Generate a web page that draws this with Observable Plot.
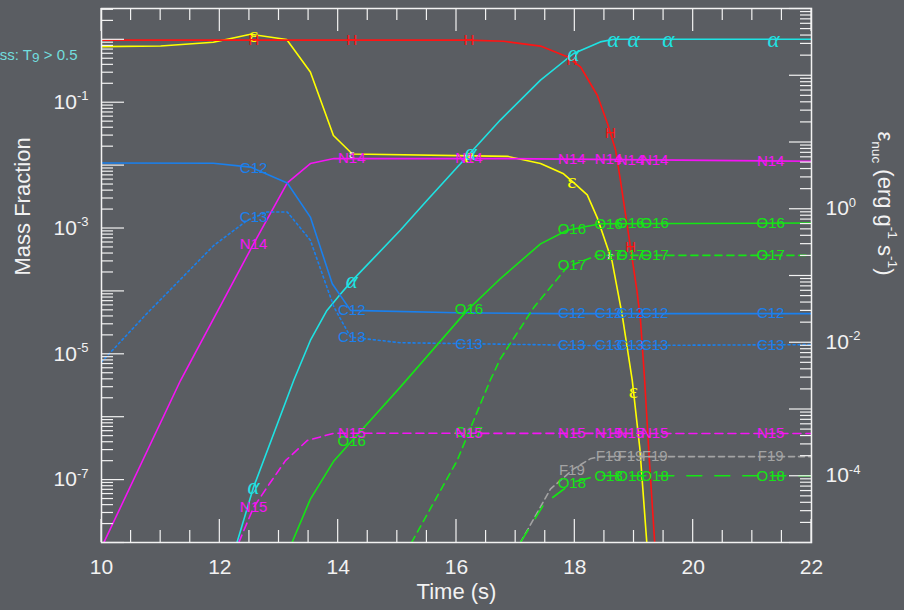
<!DOCTYPE html>
<html><head><meta charset="utf-8">
<script src="https://cdn.jsdelivr.net/npm/d3@7"></script>
<script src="https://cdn.jsdelivr.net/npm/@observablehq/plot@0.6"></script>
<style>
html,body{margin:0;padding:0;background:#5a5d62;}
#chart{width:904px;height:610px;overflow:hidden;}
svg{display:block;}
</style></head><body><div id="chart"></div>
<script>
// ---------- data ----------
const timeDomain = [10, 22];
const massDomain = [1e-8, 3.09];      // left axis, mass fraction
const epsDomain = [1e-5, 1e3];        // right axis, erg g^-1 s^-1
const xMajorTicks = [10, 12, 14, 16, 18, 20, 22];
const xTickLabels = ["10", "12", "14", "16", "18", "20", "22"];
const massLabelTicks = [1e-7, 1e-5, 1e-3, 1e-1];
const epsLabelTicks = [1e-4, 1e-2, 1e0, 1e2];

const timeH = [10, 16.2, 16.8, 17.42, 17.87, 18.10, 18.38, 18.55, 18.69, 18.77, 18.94, 19.05, 19.11, 19.18, 19.26, 19.35];
const massH = [0.97, 0.97, 0.93, 0.78, 0.53, 0.36, 0.129, 0.0463, 0.0172, 0.00575, 5.0e-4, 1.0e-4, 3.4e-5, 3.8e-6, 2.0e-7, 1e-8];

const timeEps = [10, 11.0, 11.89, 12.52, 13.13, 13.53, 13.92, 14.24, 16.86, 17.42, 17.81, 17.98, 18.21, 18.38, 18.63, 18.80, 18.97, 19.10, 19.22];
const epsNuc = [268, 275, 312, 412, 344, 112, 12.5, 6.6, 6.1, 4.77, 3.34, 2.47, 1.61, 0.73, 0.163, 0.0258, 2.7e-3, 2.5e-4, 9e-6];

const timeAlpha = [12.29, 12.57, 13.25, 13.53, 13.81, 14.04, 14.24, 15.05, 15.50, 16.24, 16.74, 17.42, 17.98, 18.43, 18.66, 22];
const massAlpha = [1e-8, 7.6e-8, 3.8e-6, 1.63e-5, 4.9e-5, 8.9e-5, 1.47e-4, 9.2e-4, 2.74e-3, 0.0159, 0.052, 0.224, 0.595, 0.91, 1.0, 1.0];

const timeN14 = [10.04, 11.335, 12.57, 13.14, 13.53, 13.93, 16.74, 22];
const massN14 = [1e-8, 3.76e-6, 5.6e-4, 5.2e-3, 0.0106, 0.0127, 0.0127, 0.0115];

const timeC12 = [10, 11.89, 12.52, 13.14, 13.53, 13.90, 14.21, 16.0, 17.70, 22];
const massC12 = [0.0108, 0.0107, 9.3e-3, 5.2e-3, 1.49e-3, 1.3e-4, 4.9e-5, 4.5e-5, 4.35e-5, 4.35e-5];

const timeC13 = [10.0, 10.77, 11.90, 12.46, 12.80, 13.14, 13.53, 13.93, 14.21, 15.05, 18.43, 22];
const massC13 = [7.4e-6, 4.4e-5, 5.3e-4, 1.32e-3, 1.8e-3, 1.8e-3, 6.4e-4, 5.5e-5, 1.84e-5, 1.5e-5, 1.35e-5, 1.4e-5];

const timeO16 = [13.22, 13.53, 13.93, 15.05, 16.18, 16.74, 17.42, 17.87, 18.43, 22];
const massO16 = [1e-8, 4.9e-8, 2.0e-7, 2.95e-6, 4.9e-5, 1.56e-4, 5.6e-4, 9.2e-4, 1.17e-3, 1.2e-3];

const timeO17 = [15.24, 16.01, 16.57, 16.74, 17.31, 17.87, 18.38, 22];
const massO17 = [1e-8, 2.0e-7, 3.8e-6, 8.3e-6, 5.5e-5, 2.4e-4, 3.67e-4, 3.67e-4];

const timeN15 = [12.32, 12.57, 12.80, 13.11, 13.48, 13.93, 22];
const massN15 = [1e-8, 3.6e-8, 7.6e-8, 2.0e-7, 4.2e-7, 5.46e-7, 5.4e-7];

const timeF19 = [17.08, 17.59, 17.98, 18.26, 18.43, 22];
const massF19 = [1e-8, 7.1e-8, 1.48e-7, 2.14e-7, 2.32e-7, 2.32e-7];

const timeO18 = [17.08, 17.48, 17.80, 18.0, 18.38, 22];
const massO18 = [1e-8, 4.1e-8, 6.9e-8, 9.3e-8, 1.15e-7, 1.15e-7];

// times at which curve names are written on the lines
const labelTimes = [12.57, 14.23, 16.21, 17.95, 18.57, 18.94, 19.35, 21.31];
const alphaLabelTimes = [12.57, 14.23, 16.24, 17.98, 18.65, 18.99, 19.58, 21.36];
const hLabelTimes = [12.57, 14.23, 16.21, 17.95, 18.6, 18.94];
const epsLabelTimes = [12.57, 16.21, 17.95, 18.99];
const epsFaintLabelTimes = [14.23, 18.6];
const c12LabelTimes = [12.57, 14.23, 17.95, 18.57, 18.94, 19.35, 21.31];

// ---------- helpers ----------
const L0 = Math.log10(massDomain[0]), L1 = Math.log10(massDomain[1]);
const R0 = Math.log10(epsDomain[0]), R1 = Math.log10(epsDomain[1]);
const epsToMass = e => 10 ** (L0 + (Math.log10(e) - R0) * (L1 - L0) / (R1 - R0));
const massToEpsLog = v => R0 + (Math.log10(v) - L0) * (R1 - R0) / (L1 - L0);

function rows(ts, vs) { return ts.map((t, i) => ({t, v: vs[i]})); }
function logAt(ts, vs, t) {
  if (t < ts[0] || t > ts[ts.length - 1]) return null;
  for (let i = 0; i < ts.length - 1; i++) {
    if (t >= ts[i] && t <= ts[i + 1]) {
      const f = (t - ts[i]) / (ts[i + 1] - ts[i]);
      return 10 ** (Math.log10(vs[i]) + f * (Math.log10(vs[i + 1]) - Math.log10(vs[i])));
    }
  }
  return null;
}
function labelRows(ts, vs, times, conv = v => v) {
  return times.map(t => ({t, v: logAt(ts, vs, t)}))
    .filter(d => d.v != null)
    .map(d => ({t: d.t, v: conv(d.v)}))
    .filter(d => d.v >= massDomain[0] && d.v <= massDomain[1]);
}

const sans = "'Liberation Sans', Arial, Helvetica, sans-serif";
const serif = "'Liberation Serif', 'DejaVu Serif', serif";
const white = "#f2f2f2";

const series = [
  {name: "H", t: timeH, v: massH, color: "#ff1414", dash: null, lt: hLabelTimes},
  {name: "α", t: timeAlpha, v: massAlpha, color: "#1ee3e3", dash: null, lt: alphaLabelTimes, greek: true},
  {name: "N14", t: timeN14, v: massN14, color: "#f514f5", dash: null, lt: labelTimes},
  {name: "C12", t: timeC12, v: massC12, color: "#1a80ee", dash: null, lt: c12LabelTimes},
  {name: "C13", t: timeC13, v: massC13, color: "#1a80ee", dash: "2,3", lt: labelTimes},
  {name: "O16", t: timeO16, v: massO16, color: "#14e614", dash: null, lt: labelTimes},
  {name: "O17", t: timeO17, v: massO17, color: "#14e614", dash: "7,5", lt: labelTimes},
  {name: "N15", t: timeN15, v: massN15, color: "#f514f5", dash: "8,5", lt: labelTimes},
  {name: "F19", t: timeF19, v: massF19, color: "#a3a3a3", dash: "6,4", lt: labelTimes},
  {name: "O18", t: timeO18, v: massO18, color: "#14e614", dash: "15,13", lt: labelTimes}
];

const marks = [];
// lines
marks.push(Plot.line(rows(timeEps, epsNuc), {x: "t", y: d => epsToMass(d.v), stroke: "#ffff00", strokeWidth: 1.6, clip: true}));
for (const s of series) {
  marks.push(Plot.line(rows(s.t, s.v), {x: "t", y: "v", stroke: s.color, strokeWidth: 1.6, strokeDasharray: s.dash, clip: true}));
}
// labels
marks.push(Plot.text(labelRows(timeEps, epsNuc, epsLabelTimes, epsToMass), {x: "t", y: "v", text: () => "ε", fill: "#ffff00", fontSize: 22, fontFamily: serif, clip: true}));
marks.push(Plot.text(labelRows(timeEps, epsNuc, epsFaintLabelTimes, epsToMass), {x: "t", y: "v", text: () => "ε", fill: "#eeeeee", fontSize: 13, fontFamily: serif, clip: true}));
for (const s of series) {
  marks.push(Plot.text(labelRows(s.t, s.v, s.lt), {
    x: "t", y: "v", text: () => s.name, fill: s.color,
    fontSize: s.greek ? 23 : 15, fontFamily: s.greek ? serif : sans, fontStyle: s.greek ? "italic" : "normal", clip: true
  }));
}

// y ticks (drawn inward from the frame)
const xMinor = d3.range(10, 22.001, 0.5).filter(t => !xMajorTicks.includes(t));
const massMajor = d3.range(-8, 1).map(k => 10 ** k);
const massMinor = [];
for (let k = -8; k <= 0; k++) for (let m = 2; m <= 9; m++) { const v = m * 10 ** k; if (v <= massDomain[1]) massMinor.push(v); }
const epsMajor = d3.range(-5, 4).map(k => 10 ** k);
const epsMinor = [];
for (let k = -5; k <= 2; k++) for (let m = 2; m <= 9; m++) epsMinor.push(m * 10 ** k);

const tickStyle = {stroke: white, strokeWidth: 1.2, fill: "none", label: null};
function yTicks(values, len, side) {
  return Plot.axisY(values, {anchor: side, tickSize: len, dx: side === "left" ? len : -len, ...tickStyle});
}
marks.push(
  yTicks(massMajor, 23, "left"), yTicks(massMinor, 12, "left"),
  yTicks(epsMajor.map(epsToMass), 23, "right"), yTicks(epsMinor.map(epsToMass), 12, "right")
);

marks.push(
  Plot.axisX(xMajorTicks, {anchor: "bottom", tickSize: 0, tickPadding: 17, fontSize: 21, fill: white, label: null,
    tickFormat: d => xTickLabels[xMajorTicks.indexOf(d)]}),
  Plot.axisY(massLabelTicks, {anchor: "left", tickSize: 0, tickPadding: 13, fontSize: 21, fill: white, label: null,
    tickFormat: d => `10^{${Math.round(Math.log10(d))}}`}),
  Plot.axisY(epsLabelTicks.map(epsToMass), {anchor: "right", tickSize: 0, tickPadding: 14, fontSize: 21, fill: white, label: null,
    tickFormat: d => `10^{${Math.round(massToEpsLog(d))}}`}),
  Plot.frame({stroke: white, strokeWidth: 1.5}),
  Plot.text(["Mass Fraction"], {text: d => d, frameAnchor: "left", dx: -79, rotate: -90, fontSize: 22, fill: white}),
  Plot.text(["Time (s)"], {text: d => d, frameAnchor: "bottom", dy: 56, fontSize: 22, fill: white}),
  Plot.text(["ε_{nuc} (erg g^{-1} s^{-1})"], {text: d => d, frameAnchor: "right", dx: 74, rotate: 90, fontSize: 22, fill: white}),
  Plot.text(["Mass: T_{9} > 0.5"], {text: d => d, frameAnchor: "top-left", dx: -24, dy: 41, textAnchor: "end", fontSize: 15, fill: "#72dede"})
);

const chart = Plot.plot({
  width: 904, height: 610,
  marginLeft: 101, marginRight: 93, marginTop: 8, marginBottom: 68,
  style: {background: "#5a5d62", color: white, fontFamily: sans, overflow: "hidden"},
  x: {domain: timeDomain},
  y: {type: "log", domain: massDomain},
  marks
});
document.getElementById("chart").appendChild(chart);

// x ticks on bottom and top edges, placed with Plot's own scales
const sx = chart.scale("x"), sy = chart.scale("y");
const yBottom = sy.apply(massDomain[0]), yTop = sy.apply(massDomain[1]);
const tg = d3.select(chart).append("g").attr("aria-label", "x ticks")
  .attr("stroke", white).attr("stroke-width", 1.2).attr("fill", "none");
for (const [vals, len] of [[xMajorTicks, 23], [xMinor, 12]]) {
  for (const t of vals) {
    const x = sx.apply(t);
    tg.append("line").attr("x1", x).attr("x2", x).attr("y1", yBottom).attr("y2", yBottom - len);
    tg.append("line").attr("x1", x).attr("x2", x).attr("y1", yTop).attr("y2", yTop + len);
  }
}

// superscript/subscript markup -> tspans
chart.querySelectorAll("text").forEach(el => {
  const s = el.textContent;
  if (!/[\^_]\{/.test(s)) return;
  const fs = parseFloat(getComputedStyle(el).fontSize) || 16;
  while (el.firstChild) el.removeChild(el.firstChild);
  const parts = s.split(/([\^_]\{[^}]*\})/).filter(p => p);
  let shift = 0;
  for (const p of parts) {
    const ts = document.createElementNS("http://www.w3.org/2000/svg", "tspan");
    let target = 0, size = null, txt = p;
    if (p.startsWith("^{")) { target = -0.42 * fs; size = 0.62 * fs; txt = p.slice(2, -1); }
    else if (p.startsWith("_{")) { target = (fs < 18 ? 0.12 : 0.28) * fs; size = (fs < 18 ? 0.9 : 0.62) * fs; txt = p.slice(2, -1); }
    const dy = target - shift; shift = target;
    if (dy) ts.setAttribute("dy", dy.toFixed(2));
    if (size) ts.setAttribute("font-size", size.toFixed(2));
    ts.textContent = txt;
    el.appendChild(ts);
  }
});
</script>
</body></html>
